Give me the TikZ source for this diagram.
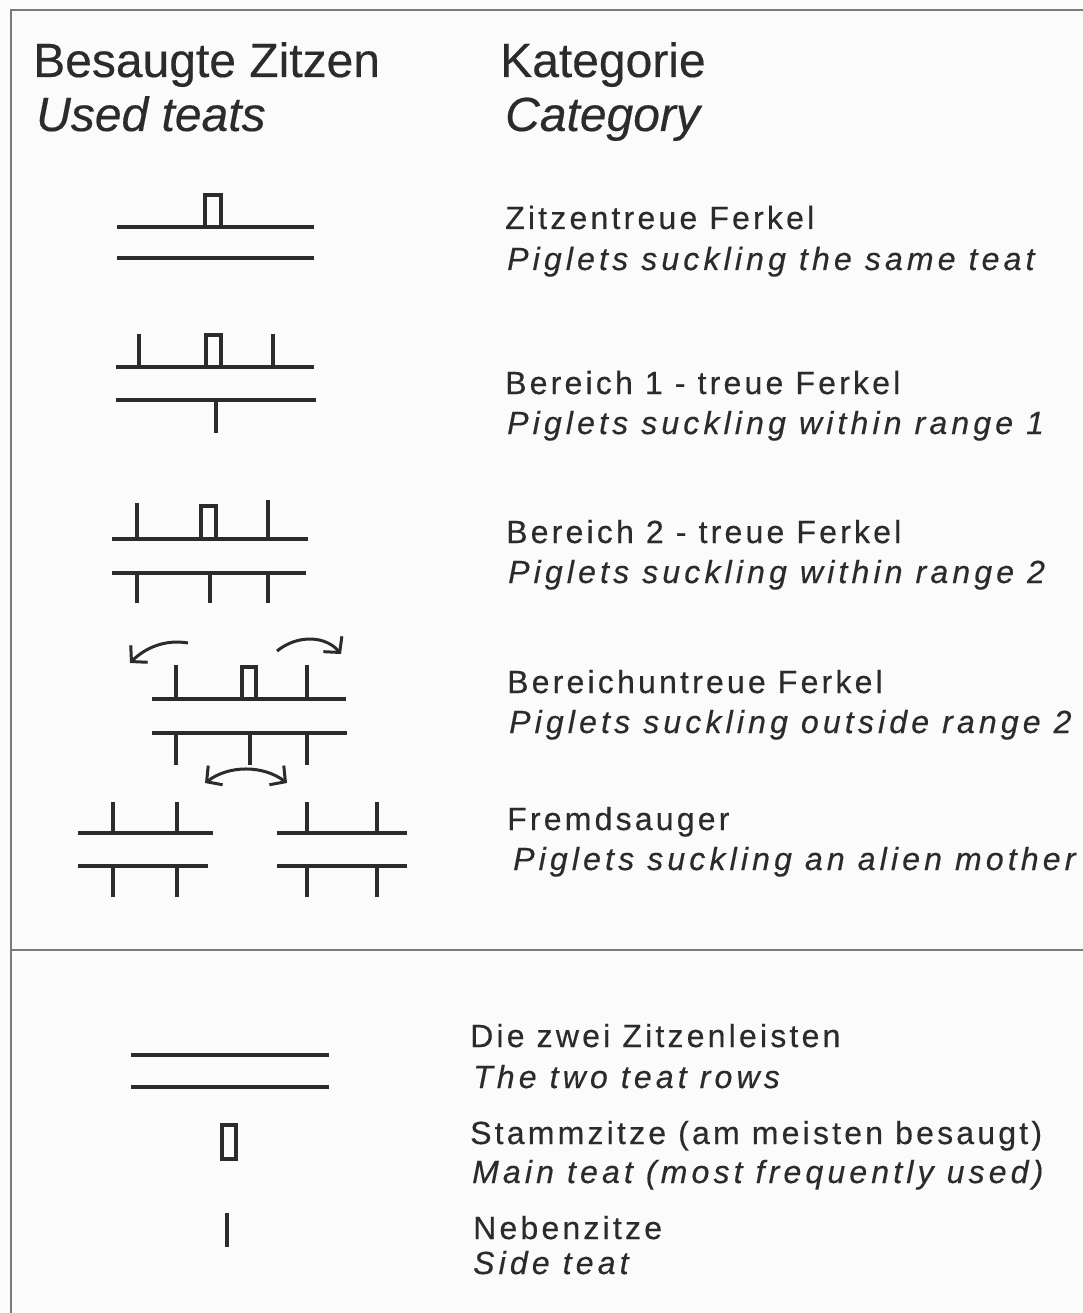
\documentclass[tikz,border=0pt]{standalone}
\usepackage{fontspec}
\setmainfont{Liberation Sans}
\newfontfamily\bodyfont[LetterSpace=10,FakeBold=0.4]{Liberation Sans}
\newfontfamily\bodyitfont[LetterSpace=13,FakeBold=0.4]{Liberation Sans Italic}
\newfontfamily\headfont[FakeBold=0.3]{Liberation Sans}
\newfontfamily\headitfont[FakeBold=0.3]{Liberation Sans Italic}
\usetikzlibrary{arrows.meta}
\definecolor{ink}{HTML}{2B2B2B}
\definecolor{framec}{HTML}{7A7A7A}
\definecolor{paper}{HTML}{FBFBFB}
\begin{document}
\begin{tikzpicture}[x=1pt,y=-1pt,
  stroke/.style={draw=ink,line width=3.1pt},
  mainteat/.style={draw=ink,line width=3.2pt},
  head/.style={anchor=base west,inner sep=0pt,text=ink,font=\headfont\fontsize{48}{50}\selectfont},
  headit/.style={head,font=\headitfont\fontsize{48}{50}\selectfont},
  body/.style={anchor=base west,inner sep=0pt,text=ink,font=\bodyfont\fontsize{32}{34}\selectfont},
  bodyit/.style={body,font=\bodyitfont\fontsize{32}{34}\selectfont},
  arr/.style={draw=ink,line width=3pt,-{Straight Barb[length=11pt,width=24pt]}},
  darr/.style={draw=ink,line width=3pt,{Straight Barb[length=11pt,width=24pt]}-{Straight Barb[length=11pt,width=24pt]}}
]
\useasboundingbox (0,0) rectangle (1083,1313);
\fill[paper] (0,0) rectangle (1083,1313);
% frame
\draw[framec,line width=2pt] (1083,10) -- (11,10) -- (11,1313);
\draw[framec,line width=2pt] (11,950) -- (1083,950);

% headers
\node[head] (h1) at (33,77) {Besaugte Zitzen};
\node[headit] (h2) at (36,131) {Used teats};
\node[head] (h3) at (500,77) {Kategorie};
\node[headit] (h4) at (505,131) {Category};

% diagram 1
\draw[stroke] (117,227) -- (314,227);
\draw[stroke] (117,258) -- (314,258);
\draw[mainteat] (205,227) -- (205,195) -- (221,195) -- (221,227);

% diagram 2
\draw[stroke] (116,367) -- (314,367);
\draw[stroke] (116,400) -- (316,400);
\draw[stroke] (139,367) -- (139,334);
\draw[stroke] (273,367) -- (273,334);
\draw[mainteat] (206,367) -- (206,335) -- (221,335) -- (221,367);
\draw[stroke] (216,400) -- (216,433);

% diagram 3
\draw[stroke] (112,539) -- (308,539);
\draw[stroke] (112,573) -- (306,573);
\draw[stroke] (137,539) -- (137,503);
\draw[stroke] (268,539) -- (268,500);
\draw[mainteat] (201,539) -- (201,506) -- (216,506) -- (216,539);
\foreach \x in {137,210,268} \draw[stroke] (\x,573) -- (\x,603);

% diagram 4
\draw[arr] (188,643) .. controls (165,639) and (145,648) .. (130,663);
\draw[arr] (277,651) .. controls (298,634) and (326,636) .. (341,654);
\draw[stroke] (152,699) -- (346,699);
\draw[stroke] (152,733) -- (347,733);
\draw[stroke] (176,699) -- (176,665);
\draw[stroke] (307,699) -- (307,665);
\draw[mainteat] (242,699) -- (242,667) -- (256,667) -- (256,699);
\foreach \x in {176,250,307} \draw[stroke] (\x,733) -- (\x,765);
\draw[darr] (205,783) .. controls (229,765) and (263,765) .. (287,783);

% diagram 5
\draw[stroke] (78,833) -- (213,833);
\draw[stroke] (78,866) -- (208,866);
\draw[stroke] (277,833) -- (407,833);
\draw[stroke] (277,866) -- (407,866);
\foreach \x in {113,177,307,377} {
  \draw[stroke] (\x,833) -- (\x,802);
  \draw[stroke] (\x,866) -- (\x,897);
}

% category texts
\node[body] (t1a) at (505,229) {Zitzentreue Ferkel};
\node[bodyit] (t1b) at (507,270) {Piglets suckling the same teat};
\node[body] (t2a) at (505,394) {Bereich 1 - treue Ferkel};
\node[bodyit] (t2b) at (507,434) {Piglets suckling within range 1};
\node[body] (t3a) at (506,543) {Bereich 2 - treue Ferkel};
\node[bodyit] (t3b) at (508,583) {Piglets suckling within range 2};
\node[body] (t4a) at (507,693) {Bereichuntreue Ferkel};
\node[bodyit] (t4b) at (509,733) {Piglets suckling outside range 2};
\node[body] (t5a) at (507,830) {Fremdsauger};
\node[bodyit] (t5b) at (513,870) {Piglets suckling an alien mother};

% legend
\draw[stroke] (131,1055) -- (329,1055);
\draw[stroke] (131,1087) -- (329,1087);
\draw[mainteat] (222,1125) rectangle (236,1159);
\draw[stroke] (227,1213) -- (227,1247);
\node[body] (l1a) at (470,1047) {Die zwei Zitzenleisten};
\node[bodyit] (l1b) at (473,1088) {The two teat rows};
\node[body] (l2a) at (470,1144) {Stammzitze (am meisten besaugt)};
\node[bodyit] (l2b) at (472,1183) {Main teat (most frequently used)};
\node[body] (l3a) at (473,1239) {Nebenzitze};
\node[bodyit] (l3b) at (473,1274) {Side teat};
\end{tikzpicture}
\end{document}
